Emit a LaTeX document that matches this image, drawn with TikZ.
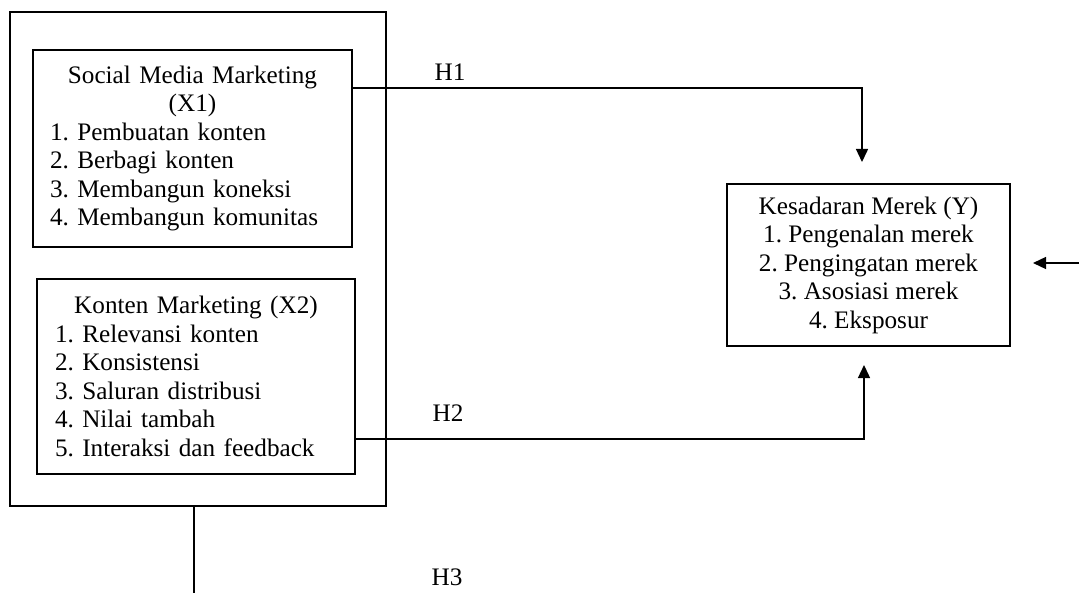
\documentclass[tikz,border=0pt]{standalone}
\usepackage{fontspec}
\setmainfont{Liberation Serif}
\usetikzlibrary{arrows.meta}

\begin{document}
\begin{tikzpicture}[
  x=0.5pt, y=-0.5pt,
  varbox/.style={draw, line width=0.7pt, inner sep=0pt, font=\fontsize{12.6pt}{14.25pt}\selectfont\frenchspacing},
  link/.style={line width=0.7pt},
  tip/.style={-{Triangle[length=6.5pt,width=6pt]}},
  hlabel/.style={font=\fontsize{12.6pt}{14.25pt}\selectfont}
]
\useasboundingbox (0,0) rectangle (1079,593);

% Outer frame round both independent variables
\node[draw, line width=0.7pt, inner sep=0pt, minimum width=188pt, minimum height=247pt] (frame) at (198,259) {};

% Independent variables
\node[varbox, minimum width=159.5pt, minimum height=98.5pt, text width=142.5pt] (smm) at (192.5,148.5)
  {{\centering Social Media Marketing\\(X1)\par}%
   {\raggedright 1. Pembuatan konten\\2. Berbagi konten\\3. Membangun koneksi\\4. Membangun komunitas\par}};
\node[varbox, minimum width=159pt, minimum height=97.5pt, text width=141pt] (konten) at (196,376.5)
  {{\centering Konten Marketing (X2)\par}%
   {\raggedright 1. Relevansi konten\\2. Konsistensi\\3. Saluran distribusi\\4. Nilai tambah\\5. Interaksi dan feedback\par}};

% Dependent variable
\node[varbox, align=center, minimum width=141.5pt, minimum height=81pt] (kes) at (868.5,265)
  {Kesadaran Merek (Y)\\1. Pengenalan merek\\2. Pengingatan merek\\3. Asosiasi merek\\4. Eksposur};

% Hypothesis paths
\coordinate (h1tip) at (862,162);
\coordinate (h2tip) at (864,365);
\coordinate (h3end) at (194,593);
\coordinate (extstart) at (1079,263);
\coordinate (exttip) at (1033,263);

\draw[link, tip] ([yshift=30.25pt]smm.east) -| (h1tip);
\draw[link, tip] ([yshift=-31.25pt]konten.east) -| (h2tip);
\draw[link] (frame.south -| h3end) -- (h3end);
\draw[link, tip] (extstart) -- (exttip);

\node[hlabel] (h1) at (450,72) {H1};
\node[hlabel] (h2) at (448,413) {H2};
\node[hlabel] (h3) at (447,577) {H3};
\end{tikzpicture}
\end{document}
